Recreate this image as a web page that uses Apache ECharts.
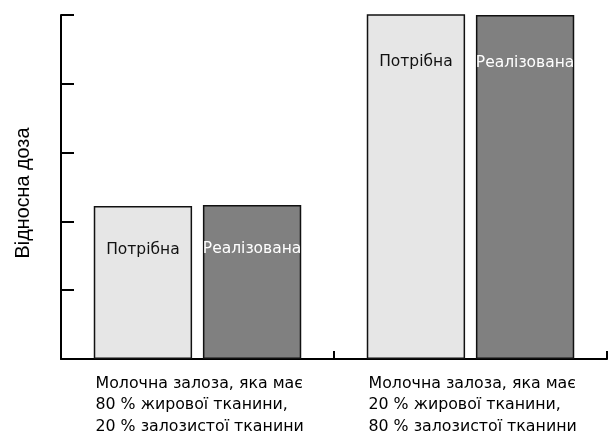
<!DOCTYPE html>
<html><head><meta charset="utf-8">
<script src="https://cdn.jsdelivr.net/npm/echarts@6/dist/echarts.min.js"></script>
<style>html,body{margin:0;padding:0;background:#fff}#c{width:608px;height:432px}</style>
</head><body><div id="c"></div>
<script>
const categories = [
  "Молочна залоза, яка має\n80 % жирової тканини,\n20 % залозистої тканини",
  "Молочна залоза, яка має\n20 % жирової тканини,\n80 % залозистої тканини"
];
const seriesNames = ["Потрібна", "Реалізована"];
const requiredDose = [0.445, 1.003];
const deliveredDose = [0.448, 1.0];
const yTicks = [0, 0.2, 0.4, 0.6, 0.8, 1.0];

const chart = echarts.init(document.getElementById('c'), null, {renderer: 'canvas'});
const labelFont = '"DejaVu Sans", "Noto Sans", sans-serif';
function mkData(vals) {
  return vals.map((v, i) => ({
    value: v,
    label: { distance: i === 0 ? 36 : 40 }
  }));
}
chart.setOption({
  animation: false,
  grid: { left: 61, right: 1, top: 15, bottom: 73, containLabel: false, outerBoundsMode: 'none' },
  xAxis: {
    type: 'category',
    data: categories,
    axisLine: { lineStyle: { color: '#000', width: 2 } },
    axisTick: { show: true, inside: true, length: 8, alignWithLabel: false, interval: 0, lineStyle: { color: '#000', width: 2 } },
    axisLabel: {
      interval: 0,
      margin: 14.5,
      align: 'center',
      fontSize: 15.5,
      fontFamily: labelFont,
      color: '#000',
      lineHeight: 21.2,
      formatter: v => v.split('\n').map(l => '{a|' + l + '}').join('\n'),
      rich: { a: { width: 204, align: 'left', fontSize: 15.8, lineHeight: 21.2, color: '#000', fontFamily: labelFont } }
    }
  },
  yAxis: {
    type: 'value',
    min: 0, max: 1, interval: 0.2,
    name: 'Відносна доза',
    nameLocation: 'middle',
    nameGap: 27,
    nameTextStyle: { fontSize: 19.8, color: '#000', fontFamily: '"Liberation Sans", Arial, sans-serif', padding: [0, 12, 0, 0] },
    axisLine: { show: true, lineStyle: { color: '#000', width: 2 } },
    axisTick: { show: true, inside: true, length: 13, lineStyle: { color: '#000', width: 2 } },
    axisLabel: { show: false },
    splitLine: { show: false }
  },
  series: [
    {
      name: seriesNames[0], type: 'bar', data: mkData(requiredDose),
      barGap: '11%', barCategoryGap: '24%',
      itemStyle: { color: '#e6e6e6', borderColor: '#111', borderWidth: 1.5 },
      label: { show: true, position: 'insideTop', formatter: seriesNames[0], color: '#111', fontSize: 15.5, fontFamily: labelFont }
    },
    {
      name: seriesNames[1], type: 'bar', data: mkData(deliveredDose),
      itemStyle: { color: '#808080', borderColor: '#111', borderWidth: 1.5 },
      label: { show: true, position: 'insideTop', formatter: seriesNames[1], color: '#fff', fontSize: 15.5, fontFamily: labelFont }
    }
  ]
});
</script></body></html>
